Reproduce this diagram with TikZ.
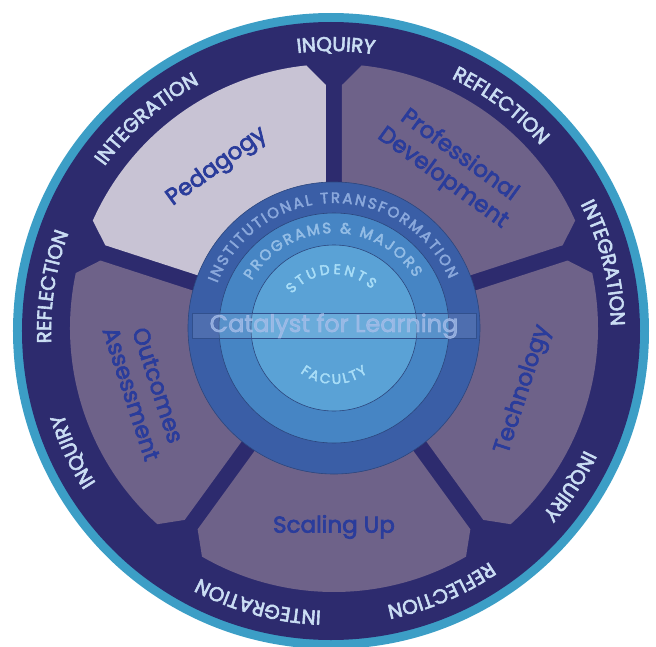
\documentclass[tikz,border=0pt]{standalone}
\usepackage{fontspec}
\setmainfont{Poppins}
\newfontfamily\heavy{Poppins}[FakeBold=3]
\usetikzlibrary{decorations.text}
\definecolor{mnavy}{HTML}{2D2B6E}
\definecolor{mrim}{HTML}{3C9EC6}
\definecolor{msector}{HTML}{6E6289}
\definecolor{mpale}{HTML}{C8C3D4}
\definecolor{mlabel}{HTML}{2A3C9B}
\definecolor{mring}{HTML}{CADDF3}
\definecolor{minst}{HTML}{3A5EA6}
\definecolor{mprog}{HTML}{4685C4}
\definecolor{mstud}{HTML}{5AA2D6}
\definecolor{minsttext}{HTML}{8AA8DC}
\definecolor{mprogtext}{HTML}{93BDE6}
\definecolor{mstudtext}{HTML}{A8DDF7}
\definecolor{mcat}{HTML}{A6BEEA}
\newcommand\ringfont{\heavy\fontsize{20}{24}\selectfont}
\newcommand\corefont{\heavy\fontsize{15}{18}\selectfont}
\newcommand\hubfont{\heavy\fontsize{14}{17}\selectfont}
\tikzset{
  segment/.style = {text=mlabel, font=\heavy\fontsize{23}{28}\selectfont, align=center},
  disc/.style = {draw=minst!75!black, line width=0.6pt},
  catbox/.style = {draw=minst!85!black, line width=0.4pt, fill=white, fill opacity=0.1,
    text=mcat, text opacity=0.75, font=\heavy\fontsize{24}{28}\selectfont,
    minimum width=284, minimum height=22, inner sep=0},
}
\newcommand\ri{110}
\newcommand\re{243}

\begin{document}
\begin{tikzpicture}[x=1pt, y=1pt]
  \useasboundingbox (-331,-315) rectangle (325,331);
  \fill[mrim] (0,0) circle (318);
  \fill[mnavy] (0,0) circle (309);
  \foreach \a/\f/\n/\t/\r in {126/mpale/ped/Pedagogy/36,
      54/msector/prof/{Professional\\Development}/-36,
      -18/msector/tech/Technology/72,
      -90/msector/scal/{Scaling Up}/0,
      198/msector/outc/{Outcomes\\Assessment}/-72} {
    \begin{scope}[shift={(3,3)}, rotate=\a]
      \fill[\f] ({\ri*cos(36)+8*sin(36)}, {-\ri*sin(36)+8*cos(36)})
        -- ({\re*cos(36)+8*sin(36)}, {-\re*sin(36)+8*cos(36)})
        -- (-30:264) arc[start angle=-30, end angle=30, radius=264]
        -- ({\re*cos(36)+8*sin(36)}, {\re*sin(36)-8*cos(36)})
        -- ({\ri*cos(36)+8*sin(36)}, {\ri*sin(36)-8*cos(36)}) -- cycle;
      \node[segment, rotate=\r] (\n) at (0:199) {\t};
    \end{scope}
  }
  \begin{scope}[shift={(3,3)}]
    \draw[disc, fill=minst] (0,0) circle (146);
    \draw[disc, fill=mprog] (0,0) circle (115);
    \draw[disc, fill=mstud] (0,0) circle (83);
    \path[decorate, decoration={text along path, text color=minsttext,
        text={|\corefont|INSTITUTIONAL TRANSFORMATION}, text align={fit to path}}]
      (159:125) arc[start angle=159, end angle=23, radius=125];
    \path[decorate, decoration={text along path, text color=mprogtext,
        text={|\corefont|PROGRAMS {\&} MAJORS}, text align={fit to path}}]
      (150:95) arc[start angle=150, end angle=32, radius=95];
    \path[decorate, decoration={text along path, text color=mstudtext,
        text={|\hubfont|STUDENTS}, text align={fit to path}}]
      (141:54) arc[start angle=141, end angle=46, radius=54];
    \path[decorate, decoration={text along path, text color=mstudtext,
        text={|\hubfont|FACULTY}, text align={fit to path}}]
      (-127:56) arc[start angle=-127, end angle=-53, radius=56];
  \end{scope}
  \node[catbox] (catalyst) at (3,5) {Catalyst for Learning};
  \foreach \a/\w in {89/INQUIRY, 53/REFLECTION, 14/INTEGRATION, -33/INQUIRY,
      -67/REFLECTION, -105/INTEGRATION, -155/INQUIRY, 171/REFLECTION, 131/INTEGRATION}
    \path[decorate, decoration={text along path, text color=mring,
        text/.expanded={|\noexpand\ringfont|\w}, text align=center}]
      (\a+40:280) arc[start angle=\a+40, end angle=\a-40, radius=280];
\end{tikzpicture}
\end{document}
